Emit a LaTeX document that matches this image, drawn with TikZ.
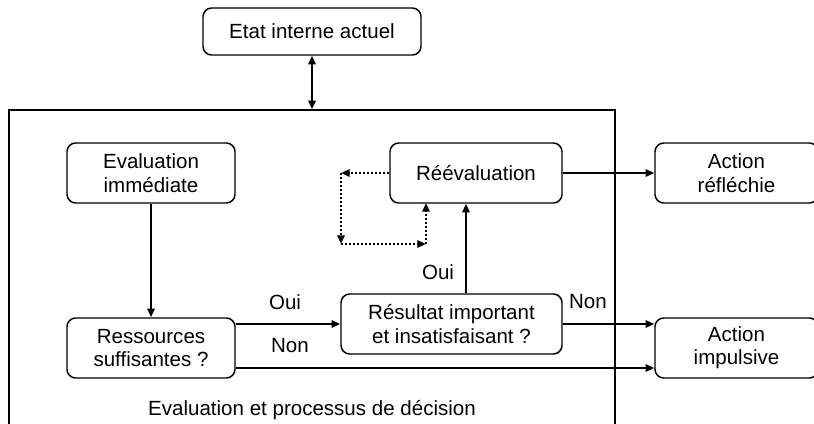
\documentclass[tikz,border=0pt]{standalone}
\usepackage{fontspec}
\setmainfont{Liberation Sans}
\usetikzlibrary{calc}
\usetikzlibrary{arrows.meta}

\begin{document}
\begin{tikzpicture}[x=0.75pt,y=-0.75pt,
  >={Triangle[length=6.5pt,width=5.5pt]},
  box/.style={draw, rounded corners=6.5pt, line width=1.1pt, align=center, inner sep=0pt, minimum height=45pt},
  fleche/.style={line width=1.5pt, ->},
  boucle/.style={line width=1.5pt, ->, dash pattern=on 1.5pt off 1.5pt},
  font=\fontsize{15.4}{17.5}\selectfont]

\useasboundingbox (0,0) rectangle (814,424);
\clip (0,0) rectangle (814,424);

% cadre de decision
\node[draw, line width=1.1pt, inner sep=0pt, minimum width=454.5pt, minimum height=247.5pt] (cadre) at (312,275) {};
\node (titre) at (312,410) {Evaluation et processus de décision};

\node[box, minimum width=163.5pt, minimum height=35.25pt] (etat) at (312,31.5) {Etat interne actuel};
\node[box, minimum width=126pt] (evalimm) at (151,173) {Evaluation\\immédiate};
\node[box, minimum width=126pt] (ress) at (151,348) {Ressources\\suffisantes ?};
\node[box, minimum width=165.75pt] (resultat) at (451.5,324) {Résultat important\\et insatisfaisant ?};
\node[box, minimum width=129pt] (reeval) at (476,173) {Réévaluation};
\node[box, minimum width=122.25pt] (reflechie) at (736.5,173) {Action\\réfléchie};
\node[box, minimum width=122.25pt] (impulsive) at (736.5,348) {Action\\impulsive};

\draw[fleche, <->] (etat.south) -- (etat.south |- cadre.north);
\draw[fleche] (evalimm) -- (ress);
\draw[fleche] (ress.east |- resultat) -- (resultat.west);
\coordinate (nonbas) at ($(ress.east)+(0,20)$);
\draw[fleche] (nonbas) -- (nonbas -| impulsive.west);
\draw[fleche] (resultat.east) -- (resultat.east -| impulsive.west);
\coordinate (ouihaut) at ($(resultat.north)+(14.5,0)$);
\draw[fleche] (ouihaut) -- (ouihaut |- reeval.south);
\draw[fleche] (reeval) -- (reflechie);

% boucle de reevaluation
\coordinate (b1) at (341,173);
\coordinate (b2) at (341,244);
\coordinate (b3) at (426,244);
\coordinate (b4) at (426,203);
\draw[boucle] (reeval.west) -- (b1);
\draw[boucle] (b1) -- (b2);
\draw[boucle] (b2) -- (b3);
\draw[boucle] (b3) -- (b4);

\node (oui1) at (285,302) {Oui};
\node (non1) at (290,346) {Non};
\node (non2) at (588,302) {Non};
\node (oui2) at (438,272) {Oui};

\end{tikzpicture}
\end{document}
